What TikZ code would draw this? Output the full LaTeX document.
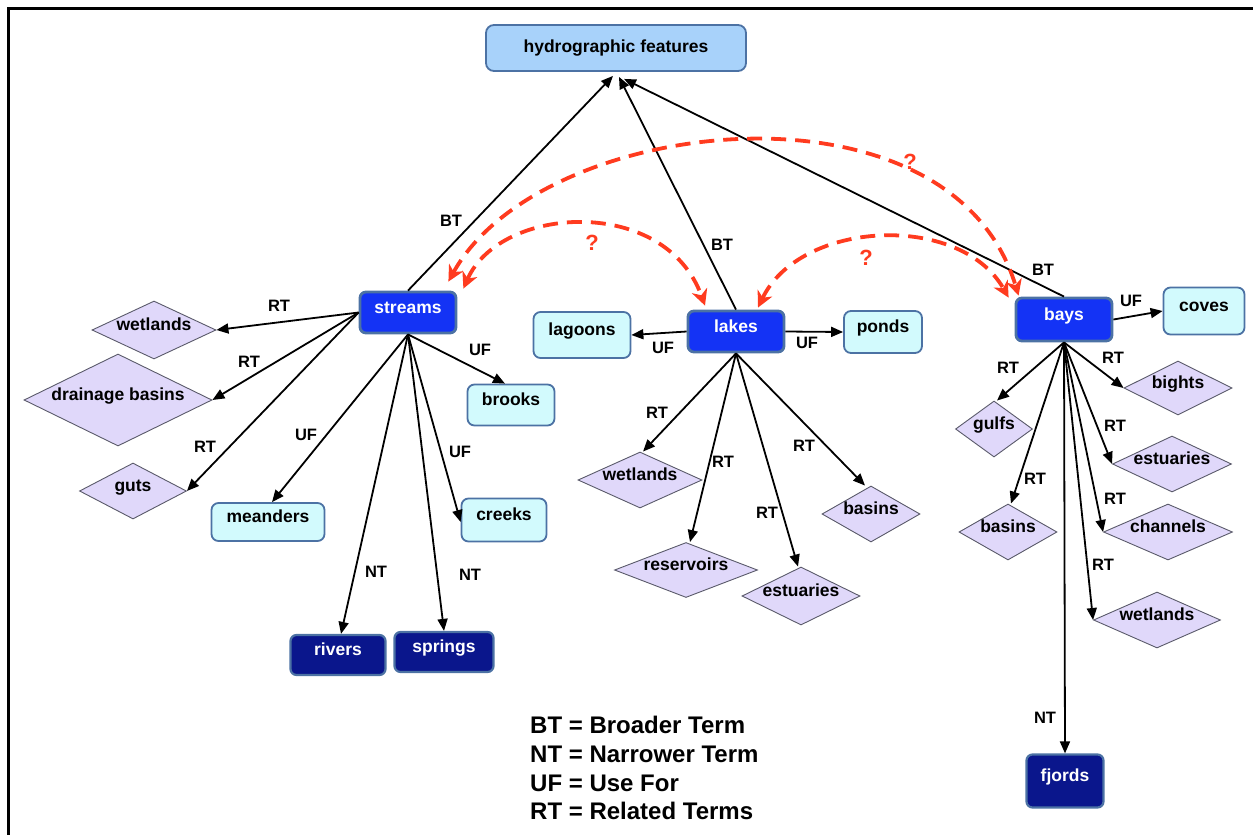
\documentclass[tikz,border=0pt]{standalone}
\usepackage{fontspec}
\setmainfont{Liberation Sans}
\usetikzlibrary{arrows.meta,shapes.geometric}
\definecolor{hfFill}{HTML}{A8D2FA}
\definecolor{boxEdge}{HTML}{4C72A4}
\definecolor{mainFill}{HTML}{1433F5}
\definecolor{navyFill}{HTML}{0A168C}
\definecolor{cyanFill}{HTML}{D2FAFD}
\definecolor{lavFill}{HTML}{E0D8FA}
\definecolor{lavEdge}{HTML}{5A5A6A}
\definecolor{qRed}{HTML}{FF3B1F}
\begin{document}
\begin{tikzpicture}[x=1pt,y=-1pt,
  nodefont/.style={font=\fontsize{17.5}{20}\selectfont\bfseries, text height=5pt, text depth=4pt, inner sep=0pt},
  hfbox/.style={nodefont, text height=13pt, rounded corners=8pt, draw=boxEdge, line width=1.8pt, fill=hfFill, minimum width=260pt, minimum height=46pt},
  mainbox/.style={nodefont, text=white, rounded corners=6pt, draw=boxEdge, line width=2.8pt, fill=mainFill, minimum width=96pt, minimum height=41pt},
  narrowbox/.style={nodefont, text=white, rounded corners=6pt, draw=boxEdge, line width=2.2pt, fill=navyFill},
  ufbox/.style={nodefont, rounded corners=7pt, draw=boxEdge, line width=1.8pt, fill=cyanFill},
  rtdia/.style={nodefont, diamond, aspect=2, draw=lavEdge, line width=0.9pt, fill=lavFill},
  rel/.style={draw=black, line width=1.8pt, -{Triangle[length=12pt,width=10pt]}},
  lab/.style={font=\fontsize{16.5}{18}\selectfont\bfseries, inner sep=1pt},
  qarrow/.style={draw=qRed, line width=3.8pt, dash pattern=on 15pt off 9pt, {Stealth[length=16pt,width=16pt,inset=5pt]}-{Stealth[length=16pt,width=16pt,inset=5pt]}},
  qmark/.style={text=qRed, font=\fontsize{22}{24}\selectfont\bfseries, inner sep=0pt},
  legend/.style={font=\fontsize{24}{28}\selectfont\bfseries, anchor=west, inner sep=0pt, text depth=0pt}
]
\useasboundingbox (0,0) rectangle (1253,835);
\draw[line width=3pt] (8.5,835) -- (8.5,8.5) -- (1253,8.5);

% main nodes
\node[hfbox] (hf) at (616,48) {hydrographic features};
\node[mainbox] (streams) at (408,312.5) {streams};
\node[mainbox] (lakes) at (736,331.5) {lakes};
\node[mainbox, minimum height=43pt] (bays) at (1064,319.5) {bays};

% UF boxes
\node[ufbox, minimum width=97pt, minimum height=46pt] (lagoons) at (582,335) {lagoons};
\node[ufbox, minimum width=78pt, minimum height=42pt] (ponds) at (883,332) {ponds};
\node[ufbox, minimum width=81pt, minimum height=47pt] (coves) at (1204,311) {coves};
\node[ufbox, minimum width=87pt, minimum height=41pt] (brooks) at (511,405) {brooks};
\node[ufbox, minimum width=113pt, minimum height=38pt] (meanders) at (268,522) {meanders};
\node[ufbox, minimum width=85pt, minimum height=43pt] (creeks) at (504,520) {creeks};

% NT boxes
\node[narrowbox, minimum width=95pt, minimum height=40pt] (rivers) at (338,655) {rivers};
\node[narrowbox, minimum width=99pt, minimum height=40pt] (springs) at (444,652) {springs};
\node[narrowbox, minimum width=77pt, minimum height=53pt] (fjords) at (1065,781) {fjords};

% RT diamonds
\node[rtdia, minimum width=124pt, minimum height=58pt] (wetS) at (154,330) {wetlands};
\node[rtdia, minimum width=188pt, minimum height=92pt] (drain) at (118,400) {drainage basins};
\node[rtdia, minimum width=107pt, minimum height=56pt] (guts) at (133,491) {guts};
\node[rtdia, minimum width=124pt, minimum height=56pt] (wetL) at (640,480) {wetlands};
\node[rtdia, minimum width=143pt, minimum height=55pt] (reserv) at (686,570) {reservoirs};
\node[rtdia, minimum width=118pt, minimum height=58pt] (estL) at (801,596) {estuaries};
\node[rtdia, minimum width=98pt, minimum height=56pt] (basL) at (871,514) {basins};
\node[rtdia, minimum width=108pt, minimum height=54pt] (bights) at (1178,388) {bights};
\node[rtdia, minimum width=77pt, minimum height=56pt] (gulfs) at (994,429) {gulfs};
\node[rtdia, minimum width=119pt, minimum height=56pt] (estB) at (1172,464) {estuaries};
\node[rtdia, minimum width=98pt, minimum height=56pt] (basB) at (1008,532) {basins};
\node[rtdia, minimum width=129pt, minimum height=56pt] (chan) at (1168,532) {channels};
\node[rtdia, minimum width=127pt, minimum height=56pt] (wetB) at (1157,620) {wetlands};

% broader terms
\draw[rel] (streams.north) -- ([xshift=-3pt,yshift=-4pt]hf.south);
\draw[rel] (lakes.north) -- ([xshift=3pt,yshift=-5pt]hf.south);
\draw[rel] (bays.north) -- ([xshift=8pt,yshift=-7pt]hf.south);
\node[lab] (bt1) at (451,221) {BT};
\node[lab] (bt2) at (722,245) {BT};
\node[lab] (bt3) at (1043,270) {BT};

% streams
\draw[rel] (streams.west) -- (wetS.east);
\draw[rel] (streams.west) -- (drain.east);
\draw[rel] (streams.west) -- (guts.east);
\draw[rel] (streams.south) -- ([xshift=4pt]meanders.north);
\draw[rel] (streams.south) -- ([xshift=3pt]rivers.north);
\draw[rel] (streams.south) -- (springs.north);
\draw[rel] (streams.south) -- ([yshift=-2pt]creeks.west);
\draw[rel] (streams.south) -- ([xshift=-6pt]brooks.north);
\node[lab] (s1) at (279,306) {RT};
\node[lab] (s2) at (249,362) {RT};
\node[lab] (s3) at (205,447) {RT};
\node[lab] (s4) at (306,435) {UF};
\node[lab] (s5) at (376,572) {NT};
\node[lab] (s6) at (470,575) {NT};
\node[lab] (s7) at (460,452) {UF};
\node[lab] (s8) at (480,350) {UF};

% lakes
\draw[rel] (lakes.west) -- (lagoons.east);
\draw[rel] (lakes.east) -- (ponds.west);
\draw[rel] (lakes.south) -- ([xshift=3pt]wetL.north);
\draw[rel] (lakes.south) -- ([xshift=4pt]reserv.north);
\draw[rel] (lakes.south) -- ([xshift=-3pt]estL.north);
\draw[rel] (lakes.south) -- ([xshift=-6pt]basL.north);
\node[lab] (k1) at (663,348) {UF};
\node[lab] (k2) at (807,343) {UF};
\node[lab] (k3) at (657,413) {RT};
\node[lab] (k4) at (723,462) {RT};
\node[lab] (k5) at (767,513) {RT};
\node[lab] (k6) at (804,446) {RT};

% bays
\draw[rel] (bays.east) -- (coves.west);
\draw[rel] (bays.south) -- (bights.west);
\draw[rel] (bays.south) -- ([xshift=3pt]gulfs.north);
\draw[rel] (bays.south) -- (estB.west);
\draw[rel] (bays.south) -- ([xshift=3pt]basB.north);
\draw[rel] (bays.south) -- (chan.west);
\draw[rel] (bays.south) -- (wetB.west);
\draw[rel] (bays.south) -- (fjords.north);
\node[lab] (b1) at (1131,301) {UF};
\node[lab] (b2) at (1113,358) {RT};
\node[lab] (b3) at (1008,368) {RT};
\node[lab] (b4) at (1115,426) {RT};
\node[lab] (b5) at (1035,479) {RT};
\node[lab] (b6) at (1115,499) {RT};
\node[lab] (b7) at (1103,565) {RT};
\node[lab] (b8) at (1045,718) {NT};

% open questions
\draw[qarrow] ([xshift=6pt,yshift=2pt]streams.north east) .. controls (500,205) and (665,195) .. ([xshift=-31pt,yshift=4pt]lakes.north);
\draw[qarrow] ([xshift=-9pt,yshift=9pt]streams.north east) .. controls (540,115) and (950,69) .. ([xshift=4pt,yshift=1pt]bays.north west);
\draw[qarrow] ([xshift=22pt,yshift=2pt]lakes.north) .. controls (800,220) and (960,212) .. ([xshift=-6pt,yshift=-1pt]bays.north west);
\node[qmark] (q1) at (592,243) {?};
\node[qmark] (q2) at (866,258) {?};
\node[qmark] (q3) at (910,162) {?};

% legend
\node[legend] (leg1) at (530,725) {BT = Broader Term};
\node[legend] (leg2) at (530,754) {NT = Narrower Term};
\node[legend] (leg3) at (530,783) {UF = Use For};
\node[legend] (leg4) at (530,811) {RT = Related Terms};
\end{tikzpicture}
\end{document}
